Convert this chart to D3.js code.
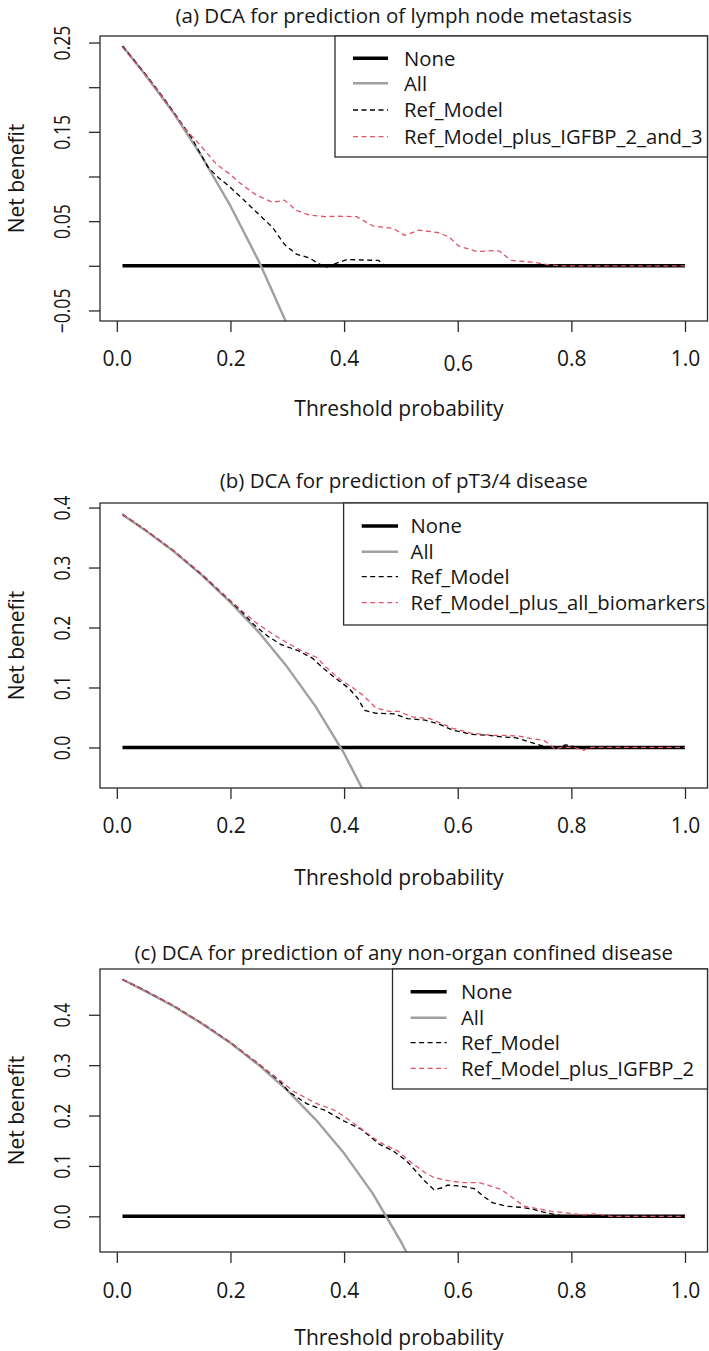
<!DOCTYPE html>
<html><head><meta charset="utf-8">
<script src="https://cdn.jsdelivr.net/npm/d3@7/dist/d3.min.js"></script>
<style>
body{margin:0;background:#fff}
svg{display:block;background:#fff}
text{font-family:"Open Sans","Noto Sans",sans-serif;fill:#161616}
</style>
</head><body>
<svg id="chart" width="709" height="1351"></svg>
<script>
// ---------- DATA ----------
const xTicks = [0, 0.2, 0.4, 0.6, 0.8, 1.0];
const noneLine = [[0.01, 0], [1.0, 0]];

// (a) lymph node metastasis
const aTitle = "(a) DCA for prediction of lymph node metastasis";
const aLegend = ["None", "All", "Ref_Model", "Ref_Model_plus_IGFBP_2_and_3"];
const aYTicks = [-0.05, 0, 0.05, 0.10, 0.15, 0.20, 0.25];
const aYLabels = ["\u22120.05", "", "0.05", "", "0.15", "", "0.25"];
const aAll = [[0.01,0.246],[0.05,0.214],[0.10,0.171],[0.15,0.122],[0.20,0.067],[0.25,0.005],[0.30,-0.066]];
const aRef = [[0.01,0.246],[0.05,0.215],[0.08,0.190],[0.10,0.172],[0.13,0.145],[0.161,0.110],[0.18,0.098],[0.196,0.090],[0.218,0.077],[0.246,0.060],[0.274,0.043],[0.295,0.024],[0.316,0.013],[0.338,0.009],[0.359,0.001],[0.367,-0.002],[0.387,0.003],[0.405,0.007],[0.461,0.006],[0.470,0.001],[0.48,0],[1.0,0]];
const aPlus = [[0.01,0.245],[0.05,0.214],[0.08,0.189],[0.10,0.171],[0.119,0.154],[0.147,0.135],[0.175,0.114],[0.200,0.102],[0.218,0.092],[0.246,0.079],[0.274,0.071],[0.295,0.0735],[0.316,0.062],[0.338,0.057],[0.366,0.055],[0.387,0.0555],[0.422,0.055],[0.451,0.0445],[0.486,0.042],[0.507,0.034],[0.532,0.040],[0.567,0.037],[0.585,0.032],[0.602,0.022],[0.634,0.016],[0.666,0.017],[0.673,0.0165],[0.694,0.006],[0.733,0.004],[0.761,0.001],[0.782,0],[1.0,0]];

// (b) pT3/4 disease
const bTitle = "(b) DCA for prediction of pT3/4 disease";
const bLegend = ["None", "All", "Ref_Model", "Ref_Model_plus_all_biomarkers"];
const bYTicks = [0, 0.1, 0.2, 0.3, 0.4];
const bYLabels = ["0.0", "0.1", "0.2", "0.3", "0.4"];
const bAll = [[0.01,0.388],[0.05,0.362],[0.10,0.327],[0.15,0.287],[0.20,0.242],[0.25,0.192],[0.30,0.134],[0.35,0.068],[0.40,-0.010],[0.45,-0.102]];
const bRef = [[0.01,0.389],[0.05,0.363],[0.10,0.328],[0.15,0.288],[0.20,0.244],[0.222,0.224],[0.241,0.205],[0.265,0.186],[0.288,0.172],[0.320,0.161],[0.344,0.149],[0.360,0.135],[0.384,0.116],[0.408,0.099],[0.424,0.082],[0.436,0.062],[0.456,0.057],[0.488,0.056],[0.512,0.048],[0.543,0.0455],[0.567,0.039],[0.591,0.029],[0.623,0.022],[0.655,0.020],[0.679,0.0175],[0.703,0.016],[0.727,0.009],[0.751,0.002],[0.775,0],[0.790,0.0045],[0.800,0.002],[0.814,0],[1.0,0]];
const bPlus = [[0.01,0.389],[0.05,0.363],[0.10,0.328],[0.15,0.289],[0.20,0.245],[0.225,0.224],[0.249,0.205],[0.273,0.190],[0.297,0.176],[0.320,0.164],[0.352,0.150],[0.368,0.134],[0.392,0.114],[0.416,0.099],[0.432,0.088],[0.456,0.066],[0.480,0.060],[0.496,0.060],[0.520,0.051],[0.551,0.048],[0.571,0.040],[0.591,0.032],[0.623,0.024],[0.663,0.020],[0.687,0.020],[0.711,0.0185],[0.727,0.015],[0.751,0.012],[0.763,0.0045],[0.771,-0.003],[0.782,0],[0.805,0],[0.822,-0.005],[0.830,0],[1.0,0]];

// (c) any non-organ confined disease
const cTitle = "(c) DCA for prediction of any non-organ confined disease";
const cLegend = ["None", "All", "Ref_Model", "Ref_Model_plus_IGFBP_2"];
const cYTicks = [0, 0.1, 0.2, 0.3, 0.4];
const cYLabels = ["0.0", "0.1", "0.2", "0.3", "0.4"];
const cAll = [[0.01,0.470],[0.05,0.447],[0.10,0.417],[0.15,0.382],[0.20,0.344],[0.25,0.300],[0.30,0.250],[0.35,0.192],[0.40,0.125],[0.45,0.046],[0.50,-0.050],[0.52,-0.094]];
const cRef = [[0.01,0.470],[0.05,0.448],[0.10,0.418],[0.15,0.383],[0.20,0.345],[0.25,0.302],[0.287,0.268],[0.303,0.247],[0.335,0.223],[0.367,0.210],[0.398,0.190],[0.430,0.173],[0.462,0.143],[0.486,0.130],[0.510,0.110],[0.526,0.090],[0.542,0.070],[0.558,0.053],[0.574,0.057],[0.582,0.062],[0.606,0.060],[0.629,0.055],[0.645,0.040],[0.661,0.027],[0.685,0.020],[0.709,0.018],[0.729,0.015],[0.749,0.009],[0.773,0.003],[0.797,0],[0.825,0.003],[0.837,0],[1.0,0]];
const cPlus = [[0.01,0.470],[0.05,0.448],[0.10,0.418],[0.15,0.383],[0.20,0.345],[0.25,0.302],[0.287,0.270],[0.311,0.248],[0.351,0.224],[0.382,0.211],[0.398,0.200],[0.430,0.174],[0.462,0.147],[0.494,0.130],[0.518,0.107],[0.542,0.087],[0.558,0.077],[0.582,0.071],[0.606,0.067],[0.637,0.067],[0.653,0.062],[0.677,0.053],[0.693,0.040],[0.717,0.020],[0.741,0.015],[0.765,0.010],[0.789,0.007],[0.821,0.003],[0.845,0.005],[0.869,0],[1.0,0]];

// ---------- LAYOUT / STYLE ----------
const svg = d3.select("#chart");
const FS = 21, FS_TITLE = 20.5, FS_Y = 22, FS_LEG = 20.3;
const FONT = '"Open Sans","Noto Sans",sans-serif';
const styles = [
  {stroke:"#000", width:3.4, dash:null},
  {stroke:"#a0a0a0", width:2.4, dash:null},
  {stroke:"#000", width:1.3, dash:"5,3.5"},
  {stroke:"#DF536B", width:1.3, dash:"5,3.5"}
];

const panels = [
  {id:"a", title:aTitle, legend:aLegend, yTicks:aYTicks, yLabels:aYLabels, series:[noneLine,aAll,aRef,aPlus],
   ymin:-0.05, ymax:0.2455, top:36, bottom:321, titleY:16, xLabelY:358, xTitleY:408,
   leg:{left:335, bottom:157, rows:[58.3,83.3,110,136.7], seg:[353,388], text:404}, xLabelShift:{"0.6":5}},
  {id:"b", title:bTitle, legend:bLegend, yTicks:bYTicks, yLabels:bYLabels, series:[noneLine,bAll,bRef,bPlus],
   ymin:-0.05, ymax:0.39, top:503, bottom:788, titleY:481, xLabelY:825, xTitleY:877,
   leg:{left:343.6, bottom:625, rows:[526,551.7,576.7,602.7], seg:[361.7,398], text:410.6}, xLabelShift:{}},
  {id:"c", title:cTitle, legend:cLegend, yTicks:cYTicks, yLabels:cYLabels, series:[noneLine,cAll,cRef,cPlus],
   ymin:-0.05, ymax:0.47, top:969, bottom:1252, titleY:953, xLabelY:1290, xTitleY:1337,
   leg:{left:392.5, bottom:1089, rows:[991.7,1017.7,1042.7,1068.3], seg:[410.6,446.7], text:461}, xLabelShift:{}}
];

const LEFT = 100, RIGHT = 707.5, CX = (LEFT + RIGHT) / 2;
const x = d3.scaleLinear().domain([-0.0296, 1.0396]).range([LEFT, RIGHT]);

panels.forEach(p => {
  const pad = 0.04 * (p.ymax - p.ymin);
  const y = d3.scaleLinear().domain([p.ymin - pad, p.ymax + pad]).range([p.bottom, p.top]);
  const g = svg.append("g").attr("class", "panel-" + p.id);

  g.append("clipPath").attr("id", "clip-" + p.id)
    .append("rect").attr("x", LEFT).attr("y", p.top).attr("width", RIGHT - LEFT).attr("height", p.bottom - p.top);

  const line = d3.line().x(d => x(d[0])).y(d => y(d[1]));
  const lg = g.append("g").attr("clip-path", "url(#clip-" + p.id + ")");
  p.series.forEach((s, i) => {
    lg.append("path").datum(s).attr("d", line)
      .attr("fill", "none").attr("stroke", styles[i].stroke)
      .attr("stroke-width", styles[i].width)
      .attr("stroke-dasharray", styles[i].dash)
      .attr("stroke-linejoin", "round");
  });

  // box
  g.append("rect").attr("x", LEFT).attr("y", p.top).attr("width", RIGHT - LEFT).attr("height", p.bottom - p.top)
    .attr("fill", "none").attr("stroke", "#2b2b2b").attr("stroke-width", 1.3);

  // y axis
  const ya = g.append("g").attr("transform", `translate(${LEFT},0)`)
    .call(d3.axisLeft(y).tickValues(p.yTicks).tickSize(11).tickFormat((d, i) => p.yLabels[i]));
  ya.select(".domain").remove();
  ya.selectAll(".tick line").attr("stroke", "#2b2b2b").attr("stroke-width", 1.3);
  ya.selectAll(".tick text").attr("x", null).attr("dy", "0.36em")
    .attr("transform", "translate(-38,0) rotate(-90) scale(0.8,1)")
    .attr("text-anchor", "middle").style("font-size", FS_Y + "px")
    .style("font-family", FONT).attr("fill", "#161616");

  // x axis
  const xa = g.append("g").attr("transform", `translate(0,${p.bottom})`)
    .call(d3.axisBottom(x).tickValues(xTicks).tickSize(11).tickFormat(d3.format(".1f")));
  xa.select(".domain").remove();
  xa.selectAll(".tick line").attr("stroke", "#2b2b2b").attr("stroke-width", 1.3);
  xa.selectAll(".tick text")
    .attr("y", d => (p.xLabelY - p.bottom) + (p.xLabelShift[d3.format(".1f")(d)] || 0))
    .attr("dy", "0.36em").style("font-size", FS + "px")
    .style("font-family", FONT).attr("fill", "#161616");

  // titles
  g.append("text").attr("x", CX).attr("y", p.titleY).attr("dy", "0.36em")
    .attr("text-anchor", "middle").style("font-size", FS_TITLE + "px").text(p.title);
  g.append("text").attr("x", 399).attr("y", p.xTitleY).attr("dy", "0.36em")
    .attr("text-anchor", "middle").style("font-size", FS + "px").text("Threshold probability");
  g.append("text").attr("transform", `translate(16,${(p.top + p.bottom) / 2}) rotate(-90)`)
    .attr("dy", "0.36em").attr("text-anchor", "middle").style("font-size", FS + "px").text("Net benefit");

  // legend
  const L = p.leg;
  g.append("rect").attr("x", L.left).attr("y", p.top).attr("width", RIGHT - L.left).attr("height", L.bottom - p.top)
    .attr("fill", "#fff").attr("stroke", "#2b2b2b").attr("stroke-width", 1.3);
  p.legend.forEach((lab, i) => {
    g.append("line").attr("x1", L.seg[0]).attr("x2", L.seg[1]).attr("y1", L.rows[i]).attr("y2", L.rows[i])
      .attr("stroke", styles[i].stroke).attr("stroke-width", styles[i].width).attr("stroke-dasharray", styles[i].dash);
    g.append("text").attr("x", L.text).attr("y", L.rows[i]).attr("dy", "0.36em")
      .style("font-size", FS_LEG + "px").text(lab);
  });
});
</script>
</body></html>
